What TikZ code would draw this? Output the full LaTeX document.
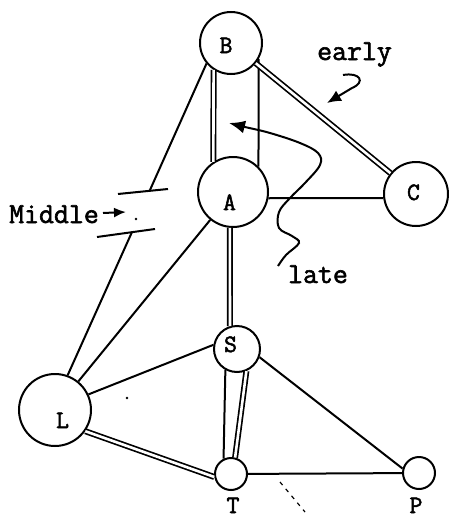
\documentclass[tikz,border=0pt]{standalone}
\usepackage{fontspec}
\newfontfamily\typewr{Latin Modern Mono}[FakeBold=2]
\usetikzlibrary{arrows.meta}
\tikzset{
  circ/.style={draw, circle, line width=2pt, inner sep=0pt},
  lbl/.style={anchor=base, inner sep=0pt, font=\fontsize{25}{26}\selectfont\typewr},
  note/.style={anchor=base, inner sep=0pt, font=\fontsize{29}{30}\selectfont\typewr},
  edge/.style={line width=2pt},
  dbl/.style={double, double distance=2.6pt, line width=1.7pt},
  hand/.style={line width=2pt},
}
\begin{document}
\begin{tikzpicture}[x=1pt,y=-1pt]
\useasboundingbox (0,0) rectangle (449,519);
% circles
\node[circ, minimum size=62pt] (B) at (231,43) {};
\node[circ, minimum size=70pt] (A) at (233,192) {};
\node[circ, minimum size=64pt] (C) at (416,194) {};
\node[circ, minimum size=46pt] (S) at (237,349) {};
\node[circ, minimum size=72pt] (L) at (55,410) {};
\node[circ, minimum size=32pt] (T) at (231,474) {};
\node[circ, minimum size=32pt] (P) at (419,473) {};
% letters
\node[lbl] (tB) at (226,53) {B};
\node[lbl] (tA) at (229.5,210) {A};
\node[lbl] (tC) at (413.5,200) {C};
\node[lbl] (tS) at (230.5,352) {S};
\node[lbl] (tL) at (62.5,428) {L};
\node[lbl] (tT) at (233,513) {T};
\node[lbl] (tP) at (416,513) {P};
% edges
\draw[dbl] (B.237) -- (A.123);
\draw[edge] (B.330) -- (A.45);
\draw[dbl] (B) -- (C);
\draw[edge] (A.350) -- (C.187);
\draw[dbl] (A.265) -- (S.107);
\coordinate (m1) at (150,190);
\coordinate (m2) at (132,232);
\draw[edge] (B.220) -- (m1);
\draw[edge] (m2) -- (L.70);
\draw[edge] (A) -- (L);
\draw[edge] (L.25) -- (S.170);
\draw[dbl] (L.325) -- (T.190);
\draw[edge] (S.241) -- (T.116);
\draw[dbl] (S.293) -- (T.76);
\draw[edge] (S.340) -- (P.165);
\draw[edge] (T) -- (P);
% break marks
\draw[hand] (118,194) -- (168,189);
\draw[hand] (97,237) -- (155,229);
\fill (136,219) circle (1.3pt);
\fill (127,398) circle (1.3pt);
\draw[line width=1.2pt, dash pattern=on 4pt off 5pt] (280,482) -- (305,512);
% notes
\node[note] (early) at (354.5,60) {early};
\node[note] (middle) at (54,223) {Middle};
\node[note] (late) at (318,283) {late};
\draw[hand, -{Latex[length=14pt,width=12pt]}] (343,75) .. controls (360,72) and (366,82) .. (352,88) -- (327,103);
\draw[hand, -{Latex[length=12pt,width=10pt]}] (103,213) -- (126,212);
\draw[hand, -{Latex[length=16pt,width=13pt]}] plot[smooth, tension=0.6] coordinates {(278,266) (286,255) (299,243) (292,236) (279,228) (279,212) (290,198) (305,183) (320,165) (318,153) (300,143) (270,133) (245,127) (229,123)};
\end{tikzpicture}
\end{document}
